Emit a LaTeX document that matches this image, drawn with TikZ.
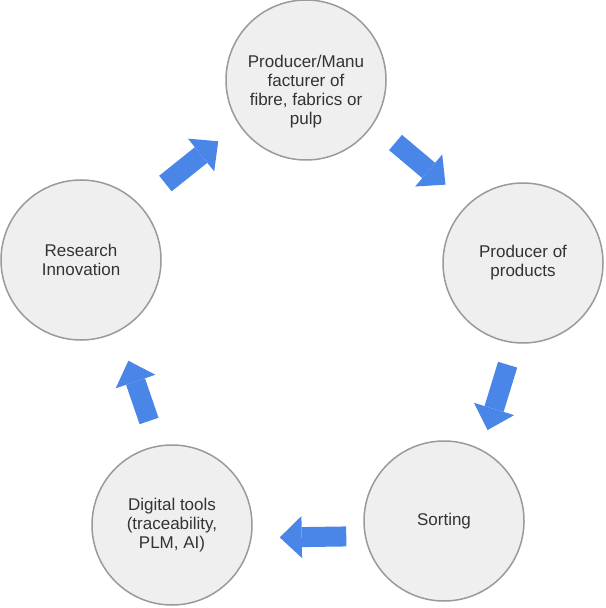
\documentclass[tikz,border=0pt]{standalone}
\usepackage{fontspec}
\setmainfont{Liberation Sans}
\usepackage{tikz}
\usetikzlibrary{arrows.meta}
\definecolor{stagefill}{HTML}{EFEFEF}
\definecolor{stageline}{HTML}{9A9A9A}
\definecolor{flowblue}{HTML}{4A86E8}

\begin{document}
\begin{tikzpicture}[x=0.5pt, y=-0.5pt,
    stagetext/.style={align=center, font=\fontsize{8.5}{9.5}\selectfont, text=black!80},
    stage/.style={circle, draw=stageline, line width=0.75pt, fill=stagefill, minimum size=80pt, inner sep=0pt, stagetext},
    flow/.style={color=flowblue, line width=10pt, -{Triangle[width=21pt, length=11pt, line width=0pt]}}]
  \useasboundingbox (0,0) rectangle (605,608);
  \node[stage, label={[stagetext, yshift=-6pt]center:{Producer/Manu\\facturer of\\fibre, fabrics or\\pulp}}] (fibre) at (306,80) {};
  \node[stage] (prod) at (523,263) {Producer of\\products};
  \node[stage] (sort) at (444,521) {Sorting};
  \node[stage] (dig) at (172,525) {Digital tools\\(traceability,\\PLM, AI)};
  \node[stage] (res) at (81,260) {Research\\Innovation};
  \path[flow]
  (res) edge [shorten <=16.5pt, shorten >=13pt, transform canvas={shift={(-2.2pt,2.7pt)}}] (fibre)
  (fibre) edge [shorten <=14pt, shorten >=14.5pt, transform canvas={shift={(3.2pt,3.8pt)}}] (prod)
  (prod) edge [shorten <=10.5pt, shorten >=9.5pt, transform canvas={shift={(7.2pt,-2.2pt)}}] (sort)
  (sort) edge [shorten <=8.5pt, shorten >=13.5pt, transform canvas={shift={(0pt,-7pt)}}] (dig)
  (dig) edge [shorten <=12.5pt, shorten >=15pt, transform canvas={shift={(5.7pt,2pt)}}] (res)
  ;
\end{tikzpicture}
\end{document}
